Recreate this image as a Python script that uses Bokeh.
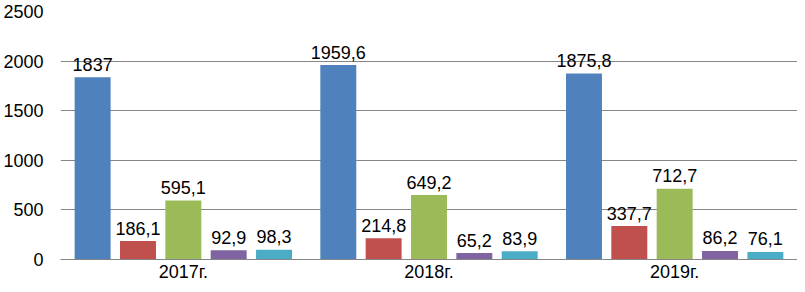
from bokeh.plotting import figure
from bokeh.models import FactorRange, Range1d, FixedTicker, ColumnDataSource
from bokeh.transform import dodge
from bokeh.core.properties import value
from bokeh.embed import file_html
from bokeh.resources import INLINE

years = ["2017г.", "2018г.", "2019г."]
s1 = [1837, 1959.6, 1875.8]
s2 = [186.1, 214.8, 337.7]
s3 = [595.1, 649.2, 712.7]
s4 = [92.9, 65.2, 86.2]
s5 = [98.3, 83.9, 76.1]
y_ticks = [0, 500, 1000, 1500, 2000, 2500]

series = [s1, s2, s3, s4, s5]
colors = ["#4F81BD", "#C0504D", "#9BBB59", "#8064A2", "#4BACC6"]
pitch = 0.1846
bar_w = 0.1464
FONT = "Liberation Sans"


def fmt(v):
    if float(v).is_integer():
        return str(int(v))
    return ("%.1f" % v).replace(".", ",")


p = figure(width=797, height=284, output_backend="svg", toolbar_location=None,
           x_range=FactorRange(factors=years, range_padding=0),
           y_range=Range1d(0, 2500),
           min_border_left=57, min_border_right=0, min_border_top=11, min_border_bottom=22)
p.outline_line_color = None
p.background_fill_color = "white"
p.border_fill_color = "white"

for i, (vals, c) in enumerate(zip(series, colors)):
    off = (i - 2) * pitch
    src = ColumnDataSource(dict(x=years, top=vals, lab=[fmt(v) for v in vals]))
    p.vbar(x=dodge("x", off, range=p.x_range), top="top", width=bar_w, source=src,
           fill_color=c, line_color=None)
    p.text(x=dodge("x", off, range=p.x_range), y="top", text="lab", source=src,
           text_align="center", text_baseline="alphabetic", y_offset=-13,
           text_font=value(FONT), text_font_size="18px", text_color="#000000")

p.xgrid.grid_line_color = None
p.ygrid.grid_line_color = "#868686"
p.ygrid.grid_line_width = 1
p.yaxis.ticker = FixedTicker(ticks=y_ticks)
p.yaxis.axis_line_color = None
p.yaxis.major_tick_line_color = None
p.yaxis.minor_tick_line_color = None
p.yaxis.major_tick_out = 0
p.yaxis.major_tick_in = 0
p.yaxis.major_label_standoff = 17
p.yaxis.major_label_text_font = FONT
p.yaxis.major_label_text_font_size = "18px"
p.yaxis.major_label_text_color = "#000000"

p.xaxis.axis_line_color = "#868686"
p.xaxis.major_tick_line_color = None
p.xaxis.minor_tick_line_color = None
p.xaxis.major_tick_out = 0
p.xaxis.major_tick_in = 0
p.xaxis.major_label_standoff = 2
p.xaxis.major_label_text_font = FONT
p.xaxis.major_label_text_font_size = "18px"
p.xaxis.major_label_text_color = "#000000"

open("out.html", "w").write(file_html(p, INLINE))
